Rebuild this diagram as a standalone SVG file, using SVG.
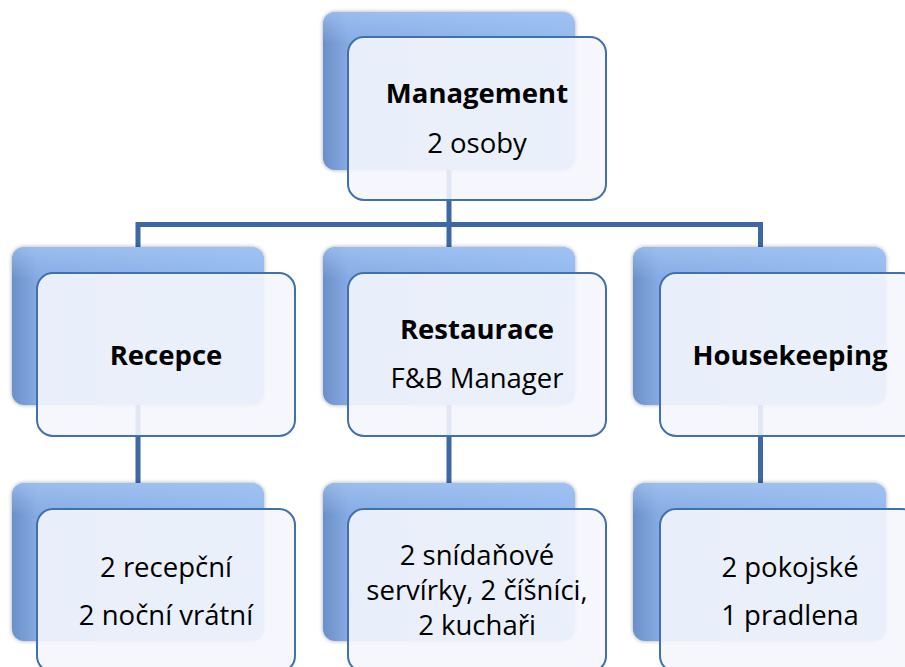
<svg xmlns="http://www.w3.org/2000/svg" width="905" height="667" viewBox="0 0 905 667">
  <defs>
    <linearGradient id="backGrad" x1="0" y1="0" x2="1" y2="0">
      <stop offset="0" stop-color="#6B90C9"/>
      <stop offset="0.1" stop-color="#86ABE3"/>
      <stop offset="1" stop-color="#93B9EE"/>
    </linearGradient>
    <linearGradient id="backTop" x1="0" y1="0" x2="0" y2="1">
      <stop offset="0" stop-color="#A4C6F4" stop-opacity="0.7"/>
      <stop offset="0.2" stop-color="#A4C6F4" stop-opacity="0"/>
    </linearGradient>
    <filter id="glow" x="-10%" y="-10%" width="120%" height="120%">
      <feGaussianBlur in="SourceAlpha" stdDeviation="2"/>
      <feComponentTransfer><feFuncA type="linear" slope="0.35"/></feComponentTransfer>
      <feMerge><feMergeNode/><feMergeNode in="SourceGraphic"/></feMerge>
    </filter>
    <style>
      .back { fill: url(#backGrad); filter: url(#glow); }
      .backhi { fill: url(#backTop); }
      .front { fill: #F4F6FC; fill-opacity: 0.9; stroke: #4170AE; stroke-width: 2; }
      .conn { fill: none; stroke: #3D68A5; stroke-width: 5; }
      text { font-family: "Open Sans", "Liberation Sans", sans-serif; font-size: 27.5px; fill: #000; text-anchor: middle; }
      .b { font-weight: bold; }
    </style>
  </defs>

  <g id="connectors">
    <path class="conn" d="M449 165 V224.5 M138 249 V224.5 H760.5 V249 M449 224.5 V249"/>
    <path class="conn" d="M138 400 V486 M449 400 V486 M760.5 400 V486"/>
  </g>

  <g id="management">
    <rect class="back" x="323" y="12" width="252" height="158" rx="12"/>
    <rect class="backhi" x="323" y="12" width="252" height="158" rx="12"/>
    <rect class="front" x="348" y="37" width="258" height="163" rx="16"/>
    <text class="b" x="477" y="103">Management</text>
    <text x="477" y="153">2 osoby</text>
  </g>

  <g id="recepce">
    <rect class="back" x="12" y="247" width="252" height="158" rx="12"/>
    <rect class="backhi" x="12" y="247" width="252" height="158" rx="12"/>
    <rect class="front" x="37" y="273" width="258" height="163" rx="16"/>
    <text class="b" x="166" y="365">Recepce</text>
  </g>

  <g id="restaurace">
    <rect class="back" x="323" y="247" width="252" height="158" rx="12"/>
    <rect class="backhi" x="323" y="247" width="252" height="158" rx="12"/>
    <rect class="front" x="348" y="273" width="258" height="163" rx="16"/>
    <text class="b" x="477" y="339">Restaurace</text>
    <text x="477" y="388">F&amp;B Manager</text>
  </g>

  <g id="housekeeping">
    <rect class="back" x="633" y="247" width="253" height="158" rx="12"/>
    <rect class="backhi" x="633" y="247" width="253" height="158" rx="12"/>
    <rect class="front" x="660" y="273" width="258" height="163" rx="16"/>
    <text class="b" x="790" y="365">Housekeeping</text>
  </g>

  <g id="recepce-staff">
    <rect class="back" x="12" y="483" width="252" height="158" rx="12"/>
    <rect class="backhi" x="12" y="483" width="252" height="158" rx="12"/>
    <rect class="front" x="37" y="509" width="258" height="163" rx="16"/>
    <text x="166" y="577">2 recepční</text>
    <text x="166" y="625">2 noční vrátní</text>
  </g>

  <g id="restaurace-staff">
    <rect class="back" x="323" y="483" width="252" height="158" rx="12"/>
    <rect class="backhi" x="323" y="483" width="252" height="158" rx="12"/>
    <rect class="front" x="348" y="509" width="258" height="163" rx="16"/>
    <text x="477" y="565">2 snídaňové</text>
    <text x="477" y="600">servírky, 2 číšníci,</text>
    <text x="477" y="635">2 kuchaři</text>
  </g>

  <g id="housekeeping-staff">
    <rect class="back" x="633" y="483" width="253" height="158" rx="12"/>
    <rect class="backhi" x="633" y="483" width="253" height="158" rx="12"/>
    <rect class="front" x="660" y="509" width="258" height="163" rx="16"/>
    <text x="790" y="577">2 pokojské</text>
    <text x="790" y="625">1 pradlena</text>
  </g>
</svg>
